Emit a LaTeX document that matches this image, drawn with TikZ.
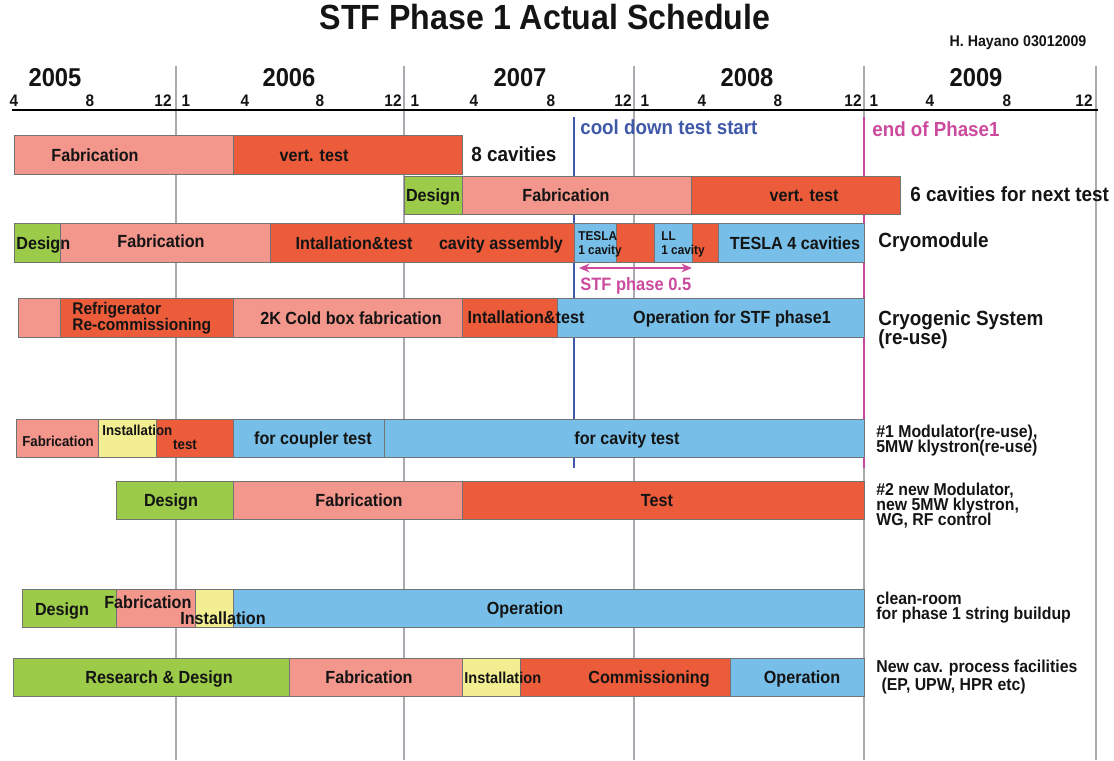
\documentclass[tikz,border=0pt]{standalone}
\usepackage{fontspec}
\setmainfont{Liberation Sans}[FakeStretch=0.92]
\usetikzlibrary{arrows.meta}
\definecolor{cfab}{RGB}{243,150,140}
\definecolor{ctest}{RGB}{236,92,58}
\definecolor{cop}{RGB}{119,190,232}
\definecolor{cdes}{RGB}{155,203,72}
\definecolor{cins}{RGB}{243,238,145}
\definecolor{cedge}{RGB}{115,115,115}
\definecolor{cgrid}{RGB}{170,170,176}
\definecolor{cblue}{RGB}{64,88,168}
\definecolor{cpink}{RGB}{204,74,158}
\definecolor{ctxt}{RGB}{20,20,20}
\newcommand\tightlines{\lineskiplimit=-10pt\relax}
\tikzset{
  segbox/.style={draw=cedge, line width=0.5pt, inner sep=0pt, outer sep=0pt, anchor=north west},
  lab/.style={font=\bfseries\fontsize{10}{11}\selectfont, inner sep=0pt, text=ctxt, text height=0.72em, text depth=0pt},
  labs/.style={font=\bfseries\fontsize{8.2}{9}\selectfont, inner sep=0pt, text=ctxt, text height=0.72em, text depth=0pt},
  multi/.style={inner sep=0pt, text=ctxt, align=left, anchor=west, execute at begin node=\tightlines},
  labxs/.style={multi, font=\bfseries\fontsize{7.3}{8}\selectfont},
  labtwo/.style={multi, font=\bfseries\fontsize{9.6}{9}\selectfont},
  rbig/.style={multi, font=\bfseries\fontsize{11.7}{10.8}\selectfont},
  rsmall/.style={multi, font=\bfseries\fontsize{9.8}{8.5}\selectfont},
  yearlab/.style={font=\bfseries\fontsize{14.7}{16}\selectfont, inner sep=0pt, text=ctxt, text height=0.72em, text depth=0pt},
  monlab/.style={font=\bfseries\fontsize{9.5}{10}\selectfont, inner sep=0pt, text=ctxt, text height=0.72em, text depth=0pt},
  gridline/.style={draw=cgrid, line width=1.1pt},
  markline/.style={line width=1.2pt},
  note/.style={font=\bfseries\fontsize{11.6}{12}\selectfont, inner sep=0pt, anchor=west, text height=0.72em, text depth=0pt},
}
\newcommand\seg[6]{\node[segbox, fill=#6, minimum width={(#3-#2)*0.02cm}, minimum height={(#5-#4)*0.02cm}] (#1) at (#2,#4) {};}
\begin{document}
\begin{tikzpicture}[x=0.02cm, y=-0.02cm]
\useasboundingbox (0,0) rectangle (1114,760);
% title
\node[font=\bfseries\fontsize{19.9}{22}\selectfont, inner sep=0pt, text=ctxt, text height=0.72em, text depth=0pt] (title) at (545,23) {STF Phase 1 Actual Schedule};
\node[font=\bfseries\fontsize{8.8}{10}\selectfont, inner sep=0pt, text=ctxt, text height=0.72em, text depth=0pt] (author) at (1018,40) {H. Hayano 03012009};
% grid lines
\foreach \gx [count=\i] in {176,404,634,864,1096} {
  \coordinate (gt\i) at (\gx,66);
  \coordinate (gb\i) at (\gx,760);
  \draw[gridline] (gt\i) -- (gb\i);
}
% marker lines
\coordinate (bt) at (574,117); \coordinate (bb) at (574,468);
\coordinate (pt) at (864,117); \coordinate (pb) at (864,468);
\draw[markline, draw=cblue] (bt) -- (bb);
\draw[markline, draw=cpink] (pt) -- (pb);
\node[note, text=cblue] (cool) at (580,128) {cool down test start};
\node[note, text=cpink] (endp) at (872,130) {end of Phase1};
% axis
\coordinate (ax1) at (12,110); \coordinate (ax2) at (1098,110);
\draw[line width=1.7pt, draw=black] (ax1) -- (ax2);
% years
\node[yearlab] (y2005) at (55,80) {2005};
\node[yearlab] (y2006) at (289,80) {2006};
\node[yearlab] (y2007) at (520,80) {2007};
\node[yearlab] (y2008) at (747,80) {2008};
\node[yearlab] (y2009) at (976,80) {2009};
% months
\foreach \nm/\mx/\mt in {a/14/4, b/90/8, c/163/12, d/186/1, e/245/4, f/320/8, g/393/12, h/415/1, i/474/4, j/551/8, k/623/12, l/645/1, m/702/4, n/778/8, o/853/12, p/874/1, q/930/4, r/1007/8, s/1084/12} {
  \node[monlab] (mon\nm) at (\mx,100) {\mt};
}
% row 1
\seg{r1a}{14}{233}{135}{174}{cfab}
\seg{r1b}{233}{462}{135}{174}{ctest}
\node[lab] (t1a) at (95,155) {Fabrication};
\node[lab] (t1b) at (314,155) {vert. test};
\node[rbig] (l1) at (471,154) {8 cavities};
% row 2
\seg{r2a}{404}{462}{176}{214}{cdes}
\seg{r2b}{462}{691}{176}{214}{cfab}
\seg{r2c}{691}{900}{176}{214}{ctest}
\node[lab] (t2a) at (433,195) {Design};
\node[lab] (t2b) at (566,195) {Fabrication};
\node[lab] (t2c) at (804,195) {vert. test};
\node[rbig] (l2) at (910,194) {6 cavities for next test};
% row 3
\seg{r3a}{14}{60}{223}{262}{cdes}
\seg{r3b}{60}{270}{223}{262}{cfab}
\seg{r3c}{270}{574}{223}{262}{ctest}
\seg{r3d}{574}{616}{223}{262}{cop}
\seg{r3e}{616}{654}{223}{262}{ctest}
\seg{r3f}{654}{692}{223}{262}{cop}
\seg{r3g}{692}{718}{223}{262}{ctest}
\seg{r3h}{718}{864}{223}{262}{cop}
\node[lab, anchor=west] (t3a) at (16,243) {Design};
\node[lab] (t3b) at (161,241) {Fabrication};
\node[lab] (t3c) at (354,243) {Intallation\&test};
\node[lab] (t3d) at (501,243) {cavity assembly};
\node[labxs] (t3e) at (578,244) {TESLA\\1 cavity};
\node[labxs] (t3f) at (661,244) {LL\\1 cavity};
\node[lab] (t3g) at (795,243) {TESLA 4 cavities};
\node[rbig] (l3) at (878,242) {Cryomodule};
% STF phase 0.5
\coordinate (sa) at (579,268); \coordinate (sb) at (692,268);
\draw[draw=cpink, line width=1pt, {Stealth[length=6pt,width=5pt]}-{Stealth[length=6pt,width=5pt]}] (sa) -- (sb);
\node[font=\bfseries\fontsize{10.2}{11}\selectfont, inner sep=0pt, text=cpink, anchor=west, text height=0.72em, text depth=0pt] (stf) at (580,284) {STF phase 0.5};
% row 4
\seg{r4a}{18}{60}{298}{337}{cfab}
\seg{r4b}{60}{233}{298}{337}{ctest}
\seg{r4c}{233}{462}{298}{337}{cfab}
\seg{r4d}{462}{557}{298}{337}{ctest}
\seg{r4e}{557}{864}{298}{337}{cop}
\node[labtwo] (t4a) at (72,318) {Refrigerator\\Re-commissioning};
\node[lab] (t4b) at (351,318) {2K Cold box fabrication};
\node[lab] (t4c) at (526,317) {Intallation\&test};
\node[lab] (t4d) at (732,317) {Operation for STF phase1};
\node[rbig] (l4) at (878,330) {Cryogenic System\\(re-use)};
% row 5
\seg{r5a}{16}{98}{419}{457}{cfab}
\seg{r5b}{98}{156}{419}{457}{cins}
\seg{r5c}{156}{233}{419}{457}{ctest}
\seg{r5d}{233}{384}{419}{457}{cop}
\seg{r5e}{384}{864}{419}{457}{cop}
\node[labs] (t5a) at (58,440) {Fabrication};
\node[labs, anchor=west] (t5b) at (102,429) {Installation};
\node[labs] (t5c) at (185,443) {test};
\node[lab] (t5d) at (313,438) {for coupler test};
\node[lab] (t5e) at (627,438) {for cavity test};
\node[rsmall] (l5) at (876,441) {\#1 Modulator(re-use),\\5MW klystron(re-use)};
% row 6
\seg{r6a}{116}{233}{481}{519}{cdes}
\seg{r6b}{233}{462}{481}{519}{cfab}
\seg{r6c}{462}{864}{481}{519}{ctest}
\node[lab] (t6a) at (171,500) {Design};
\node[lab] (t6b) at (359,500) {Fabrication};
\node[lab] (t6c) at (657,500) {Test};
\node[rsmall] (l6) at (876,506) {\#2 new Modulator,\\new 5MW klystron,\\WG, RF control};
% row 7
\seg{r7a}{22}{116}{589}{627}{cdes}
\seg{r7b}{116}{195}{589}{627}{cfab}
\seg{r7c}{195}{233}{589}{627}{cins}
\seg{r7d}{233}{864}{589}{627}{cop}
\node[lab] (t7a) at (62,609) {Design};
\node[lab, anchor=west] (t7b) at (104,602) {Fabrication};
\node[lab, anchor=west] (t7c) at (180,618) {Installation};
\node[lab] (t7d) at (525,608) {Operation};
\node[rsmall] (l7) at (876,608) {clean-room\\for phase 1 string buildup};
% row 8
\seg{r8a}{13}{289}{658}{696}{cdes}
\seg{r8b}{289}{462}{658}{696}{cfab}
\seg{r8c}{462}{520}{658}{696}{cins}
\seg{r8d}{520}{730}{658}{696}{ctest}
\seg{r8e}{730}{864}{658}{696}{cop}
\node[lab] (t8a) at (159,677) {Research \& Design};
\node[lab] (t8b) at (369,677) {Fabrication};
\node[lab, anchor=west, font=\bfseries\fontsize{9}{10}\selectfont] (t8c) at (464,677) {Installation};
\node[lab] (t8d) at (649,677) {Commissioning};
\node[lab] (t8e) at (802,677) {Operation};
\node[rsmall] (l8) at (876,677) {New cav. process facilities\\[1.5pt]\hspace*{3pt}(EP, UPW, HPR etc)};
\end{tikzpicture}
\end{document}
